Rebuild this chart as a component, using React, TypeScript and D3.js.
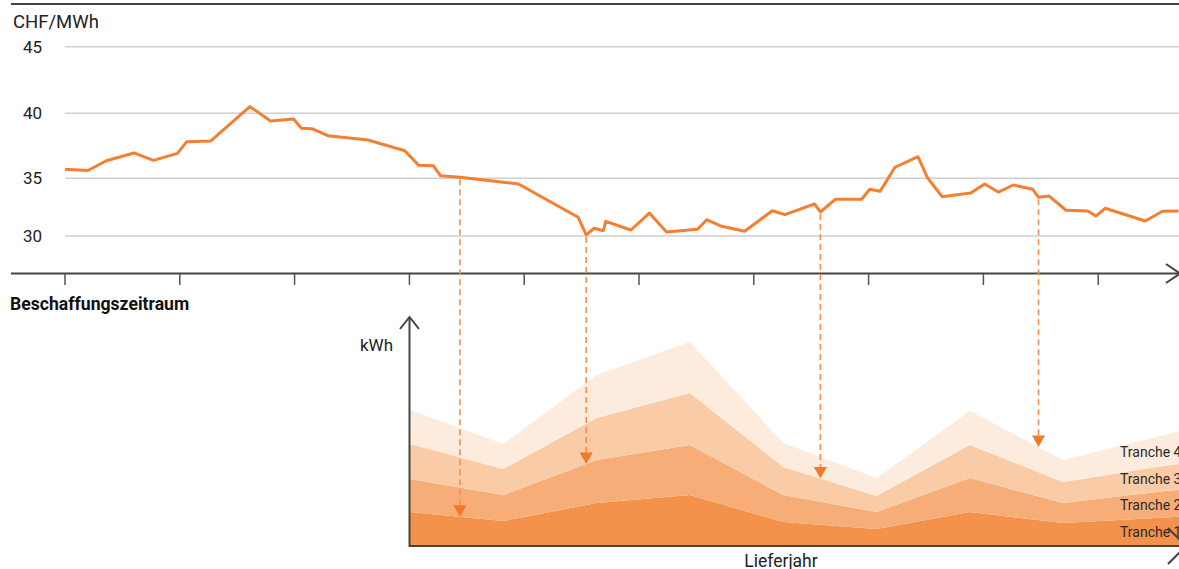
import React from 'react';
import * as d3 from 'd3';

const width = 1179;
const height = 569;

// Preis-Chart (oben) ===========================================
const priceT = [
  0, 0.2, 0.36, 0.6, 0.77, 0.98, 1.06, 1.27, 1.61, 1.79, 1.99, 2.06, 2.15, 2.29, 2.64, 2.96,
  3.08, 3.21, 3.27, 3.44, 3.95, 4.47, 4.54, 4.61, 4.69, 4.71, 4.93, 5.09, 5.24, 5.51, 5.59,
  5.71, 5.92, 6.16, 6.27, 6.53, 6.58, 6.71, 6.94, 7.01, 7.1, 7.23, 7.43, 7.51, 7.64, 7.89,
  8.01, 8.13, 8.26, 8.43, 8.48, 8.57, 8.72, 8.91, 8.98, 9.06, 9.41, 9.56, 9.7
];
const priceVal = [
  35.7, 35.6, 36.35, 36.95, 36.38, 36.92, 37.82, 37.87, 40.5, 39.41, 39.56, 38.85, 38.82,
  38.28, 37.95, 37.12, 36.0, 35.96, 35.2, 35.08, 34.51, 31.62, 30.09, 30.67, 30.46, 31.27,
  30.52, 31.99, 30.35, 30.58, 31.41, 30.87, 30.41, 32.19, 31.85, 32.77, 32.08, 33.18, 33.18,
  34.05, 33.87, 35.85, 36.66, 35.08, 33.41, 33.73, 34.51, 33.81, 34.42, 34.05, 33.35, 33.47,
  32.23, 32.17, 31.73, 32.4, 31.3, 32.14, 32.17
];
const priceTicks = [30, 35, 40, 45];
const periodTicks = [0, 1, 2, 3, 4, 5, 6, 7, 8, 9];

// Lieferjahr-Chart (unten) =====================================
const deliveryYears = [0, 1, 2, 3, 4, 5, 6, 7, 8, 9];
const tranche1 = [34, 25, 43, 51, 24, 17, 34, 23, 28, 33];
const tranche2 = [33, 26, 43, 50, 27, 17, 34, 20, 26, 30];
const tranche3 = [35, 26, 42, 52, 28, 16, 33, 21, 25, 28];
const tranche4 = [34, 25, 43, 51, 24, 18, 34, 22, 30, 41];
const trancheLabels = ['Tranche 1', 'Tranche 2', 'Tranche 3', 'Tranche 4'];
const trancheColors = ['#F4914A', '#F6AD77', '#F9CBA6', '#FDECDD'];

// Beschaffungszeitpunkte -> Tranche
const purchaseT = [3.44, 4.54, 6.58, 8.48];
const purchaseTranche = [0, 1, 2, 3];

const orange = '#F47F30';
const axisColor = '#45453f';
const font = 'Roboto, "Liberation Sans", sans-serif';

const xTop = d3.scaleLinear().domain([0, 1]).range([65, 179.8]);
const yTop = d3.scaleLinear().domain([30, 35, 40, 45]).range([236, 178.3, 113.3, 46.7]);

const xB = d3.scaleLinear().domain([0, 1]).range([410, 503.3]);
const yB = d3.scaleLinear().domain([0, 230]).range([546, 316]);

const priceAt = (t: number) => d3.scaleLinear().domain(priceT).range(priceVal)(t);

const App = () => {
  const pricePts = priceT.map((t, i) => [t, priceVal[i]] as [number, number]);
  const line = d3.line<[number, number]>()
    .x(d => xTop(d[0]))
    .y(d => yTop(d[1]));

  const rows = deliveryYears.map((y, i) => ({
    year: y,
    t1: tranche1[i],
    t2: tranche2[i],
    t3: tranche3[i],
    t4: tranche4[i]
  }));
  const stacked = d3.stack<any>().keys(['t1', 't2', 't3', 't4'])(rows);
  const area = d3.area<any>()
    .x(d => xB(d.data.year))
    .y0(d => yB(d[0]))
    .y1(d => yB(d[1]));

  // Obergrenze der Tranche k an einer Stelle (Index, linear interpoliert)
  const trancheTop = (k: number, idx: number) => {
    const tops = stacked[k].map(d => d[1]);
    return d3.scaleLinear().domain(deliveryYears).range(tops)(idx);
  };

  const labelIdx = 8;

  return (
    <svg width={width} height={height} style={{ position: 'absolute', left: 0, top: 0 }}
      fontFamily={font}>
      {/* oberer Rahmen */}
      <line x1={11} x2={width} y1={4} y2={4} stroke={axisColor} strokeWidth={2} />
      <text x={13} y={28} fontSize={18.5} fill="#222">CHF/MWh</text>

      {/* Gitter */}
      {priceTicks.map(v => (
        <g key={v}>
          <line x1={65} x2={width} y1={yTop(v)} y2={yTop(v)} stroke="#cfcfcf" strokeWidth={1.5} />
          <text x={42} y={yTop(v)} dy="0.36em" textAnchor="end" fontSize={17} fill="#222">{v}</text>
        </g>
      ))}

      {/* Zeitachse */}
      <line x1={11} x2={width} y1={273.5} y2={273.5} stroke={axisColor} strokeWidth={2} />
      <polyline points={`${width - 13},264 ${width + 1},273.5 ${width - 13},283`} fill="none"
        stroke={axisColor} strokeWidth={2} />
      {periodTicks.map(t => (
        <line key={t} x1={xTop(t)} x2={xTop(t)} y1={274} y2={285} stroke="#555" strokeWidth={1.5} />
      ))}
      <text x={10} y={310} fontSize={17.6} fontWeight="bold" fill="#111">Beschaffungszeitraum</text>

      {/* Tranchen */}
      {stacked.map((s, k) => (
        <path key={k} d={area(s) || ''} fill={trancheColors[k]} />
      ))}
      {stacked.map((s, k) => (
        <text key={k} x={1120} y={yB((s[labelIdx][0] + s[labelIdx][1]) / 2)} dy="0.35em"
          fontSize={14} fill="#2a2a2a">{trancheLabels[k]}</text>
      ))}

      {/* Achsen unten */}
      <line x1={409.5} x2={409.5} y1={317} y2={547} stroke={axisColor} strokeWidth={2} />
      <polyline points={`400,329 409.5,317 419,329`} fill="none" stroke={axisColor} strokeWidth={2} />
      <line x1={409} x2={width} y1={546} y2={546} stroke={axisColor} strokeWidth={2} />
      <polyline points={`1168,528 1186,546 1168,564`} fill="none" stroke={axisColor} strokeWidth={2} />
      <text x={393} y={351} textAnchor="end" fontSize={17} fill="#222">kWh</text>
      <text x={781} y={567} textAnchor="middle" fontSize={17.5} fill="#222">Lieferjahr</text>

      {/* Preis-Linie */}
      <path d={line(pricePts) || ''} fill="none" stroke={orange} strokeWidth={3}
        strokeLinejoin="round" />

      {/* Pfeile Beschaffung -> Tranche */}
      {purchaseT.map((t, i) => {
        const px = xTop(t);
        const y0 = yTop(priceAt(t));
        const tipY = yB(trancheTop(purchaseTranche[i], xB.invert(px)));
        return (
          <g key={i}>
            <line x1={px} x2={px} y1={y0 + 2} y2={tipY - 10} stroke="#F3904E" strokeWidth={1.6}
              strokeDasharray="6,4" />
            <path d={`M${px - 6.5},${tipY - 11.5}L${px + 6.5},${tipY - 11.5}L${px},${tipY}Z`}
              fill="#F07A28" />
          </g>
        );
      })}
    </svg>
  );
};

export default App;
